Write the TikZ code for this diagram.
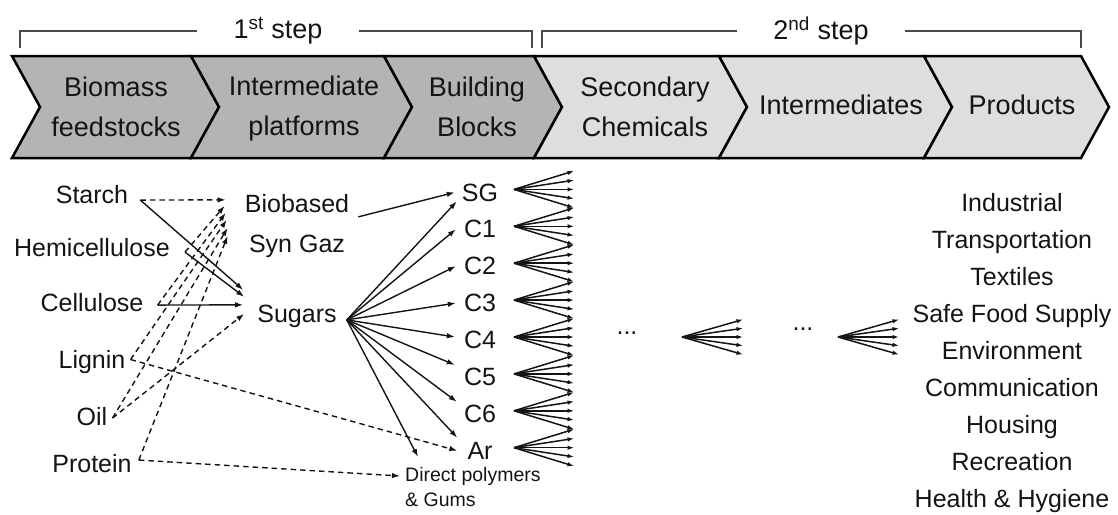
\documentclass[tikz,border=0pt]{standalone}
\usepackage{fontspec}
\setmainfont{Liberation Sans}
\usetikzlibrary{arrows.meta,calc}
\definecolor{Ink}{HTML}{141414}
\definecolor{Dark}{HTML}{B4B4B4}
\definecolor{Light}{HTML}{DEDEDE}
\definecolor{Rule}{HTML}{4A4A4A}
\tikzset{
  chev/.style={draw=black,line width=2.5pt,line join=miter},
  band/.style={text=Ink,align=center,inner sep=0pt,font=\fontsize{27}{40}\selectfont},
  steplbl/.style={text=Ink,inner ysep=0pt,inner xsep=36pt,font=\fontsize{27}{32}\selectfont},
  bracket/.style={draw=Rule,line width=1.3pt},
  lbl/.style={text=Ink,inner sep=0pt,anchor=base,font=\fontsize{25}{30}\selectfont},
  link/.style={draw=Ink,line width=1.4pt,-{Latex[length=8pt,width=5.5pt]}},
  dlink/.style={link,dash pattern=on 5.5pt off 4pt},
  fan/.style={draw=Ink,line width=1.5pt,-{Latex[length=6.5pt,width=4.5pt]}}
}
\begin{document}
\begin{tikzpicture}[x=1pt,y=-1pt]
  \useasboundingbox (0,0) rectangle (1118,514);

  \node[steplbl] (step1) at (278,31) {1\textsuperscript{st} step};
  \node[steplbl] (step2) at (821,31) {2\textsuperscript{nd} step};
  \draw[bracket] (20,48) -- (20,31) -- (step1.west);
  \draw[bracket] (step1.east) -- (532,31) -- (532,48);
  \draw[bracket] (542,48) -- (542,31) -- (step2.west);
  \draw[bracket] (step2.east) -- (1081,31) -- (1081,48);

  \filldraw[chev,fill=Dark] (12,56) -- (191,56) -- (219,107) -- (191,158) -- (12,158) -- (40,107) -- cycle;
  \filldraw[chev,fill=Dark] (191,56) -- (384,56) -- (412,107) -- (384,158) -- (191,158) -- (219,107) -- cycle;
  \filldraw[chev,fill=Dark] (384,56) -- (534,56) -- (562,107) -- (534,158) -- (384,158) -- (412,107) -- cycle;
  \filldraw[chev,fill=Light] (534,56) -- (719,56) -- (747,107) -- (719,158) -- (534,158) -- (562,107) -- cycle;
  \filldraw[chev,fill=Light] (719,56) -- (924,56) -- (952,107) -- (924,158) -- (719,158) -- (747,107) -- cycle;
  \filldraw[chev,fill=Light] (924,56) -- (1081,56) -- (1109,107) -- (1081,158) -- (924,158) -- (952,107) -- cycle;

  \node[band] (feed) at (116,107) {Biomass\\feedstocks};
  \node[band] (platf) at (304,109) {Intermediate\\platforms};
  \node[band] (build) at (477,107) {Building\\Blocks};
  \node[band] (second) at (645,107) {Secondary\\Chemicals};
  \node[band] (interm) at (841,105) {Intermediates};
  \node[band] (prods) at (1022,105) {Products};

  % feedstocks
  \node[lbl] (starch) at (92,203) {Starch};
  \node[lbl] (hemi) at (92,256) {Hemicellulose};
  \node[lbl] (cellu) at (92,311) {Cellulose};
  \node[lbl] (lignin) at (92,368) {Lignin};
  \node[lbl] (oil) at (92,425) {Oil};
  \node[lbl] (protein) at (92,472) {Protein};

  % platforms
  \node[lbl,anchor=north,align=center,font=\fontsize{25}{40}\selectfont] (syngas) at (297,194) {Biobased\\Syn Gaz};
  \node[lbl] (sugars) at (297,322) {Sugars};
  \node[lbl,anchor=north west,align=left,font=\fontsize{19.5}{25}\selectfont] (direct) at (405,467) {Direct polymers\\\& Gums};

  % building blocks and their fans
  \foreach \blk [count=\n from 0] in {SG,C1,C2,C3,C4,C5,C6,Ar} {
    \node[lbl] (\blk) at (480,201+36.9*\n) {\blk};
    \coordinate (\blk-o) at ($(\blk.east -| 514,0)+(0,-3)$);
    \foreach \k in {-2,...,2}
      \draw[fan] (\blk-o) -- ($(\blk-o)+(60,9.225*\k)$);
  }

  \draw[dlink] ([xshift=12pt,yshift=-6pt]starch.east) -- ([xshift=-19pt,yshift=26pt]syngas.west);
  \draw[dlink] ([xshift=15pt,yshift=-5pt]hemi.east) -- ([xshift=-20pt,yshift=20pt]syngas.west);
  \draw[dlink] ([xshift=14pt,yshift=-3pt]cellu.east) -- ([xshift=-19pt,yshift=13pt]syngas.west);
  \draw[dlink] ([xshift=5pt,yshift=2pt]lignin.east) -- ([xshift=-18pt,yshift=6pt]syngas.west);
  \draw[dlink] ([xshift=5pt,yshift=-2pt]oil.east) -- ([xshift=-17pt,yshift=-2pt]syngas.west);
  \draw[dlink] ([xshift=7pt,yshift=3pt]protein.east) -- ([xshift=-17pt,yshift=-10pt]syngas.west);

  \draw[link] ([xshift=12pt,yshift=-6pt]starch.east) -- ([xshift=-14pt,yshift=26pt]sugars.west);
  \draw[link] ([xshift=15pt,yshift=-5pt]hemi.east) -- ([xshift=-13pt,yshift=19pt]sugars.west);
  \draw[link] ([xshift=14pt,yshift=-3pt]cellu.east) -- ([xshift=-14pt,yshift=11pt]sugars.west);
  \draw[dlink] ([xshift=5pt,yshift=-2pt]oil.east) -- ([xshift=-13pt,yshift=2pt]sugars.west);
  \draw[dlink] ([xshift=5pt,yshift=2pt]lignin.east) -- ([xshift=-10pt]Ar.west);
  \draw[dlink] ([xshift=7pt,yshift=3pt]protein.east) -- ([xshift=-5pt,yshift=-9pt]direct.north west);

  \draw[link] ([xshift=9pt,yshift=9pt]syngas.east) -- ([xshift=-7pt]SG.west);
  \draw[link] ([xshift=10pt,yshift=-4pt]sugars.east) -- ([xshift=-5pt,yshift=-9pt]SG.west);
  \draw[link] ([xshift=10pt,yshift=-4pt]sugars.east) -- ([xshift=-8pt]C1.west);
  \draw[link] ([xshift=10pt,yshift=-4pt]sugars.east) -- ([xshift=-8pt]C2.west);
  \draw[link] ([xshift=10pt,yshift=-4pt]sugars.east) -- ([xshift=-8pt]C3.west);
  \draw[link] ([xshift=10pt,yshift=-4pt]sugars.east) -- ([xshift=-9pt,yshift=3pt]C4.west);
  \draw[link] ([xshift=10pt,yshift=-4pt]sugars.east) -- ([xshift=-9pt,yshift=12pt]C5.west);
  \draw[link] ([xshift=10pt,yshift=-4pt]sugars.east) -- ([xshift=-7pt,yshift=12pt]C6.west);
  \draw[link] ([xshift=10pt,yshift=-4pt]sugars.east) -- ([xshift=-10pt,yshift=13pt]Ar.west);
  \draw[link] ([xshift=10pt,yshift=-4pt]sugars.east) -- ([xshift=13pt,yshift=10pt]direct.north west);

  % later steps
  \node[lbl] (dots1) at (627,334) {...};
  \coordinate (mid1) at (682,337);
  \node[lbl] (dots2) at (803,330) {...};
  \coordinate (mid2) at (838,337);
  \foreach \m in {mid1,mid2}
    \foreach \k in {-2,...,2}
      \draw[fan] (\m) -- ($(\m)+(61,8.75*\k)$);

  \foreach \p [count=\n from 0] in {Industrial,Transportation,Textiles,Safe Food Supply,Environment,Communication,Housing,Recreation,Health \& Hygiene}
    \node[lbl] (prod\n) at (1012,211+37.1*\n) {\p};
\end{tikzpicture}
\end{document}
